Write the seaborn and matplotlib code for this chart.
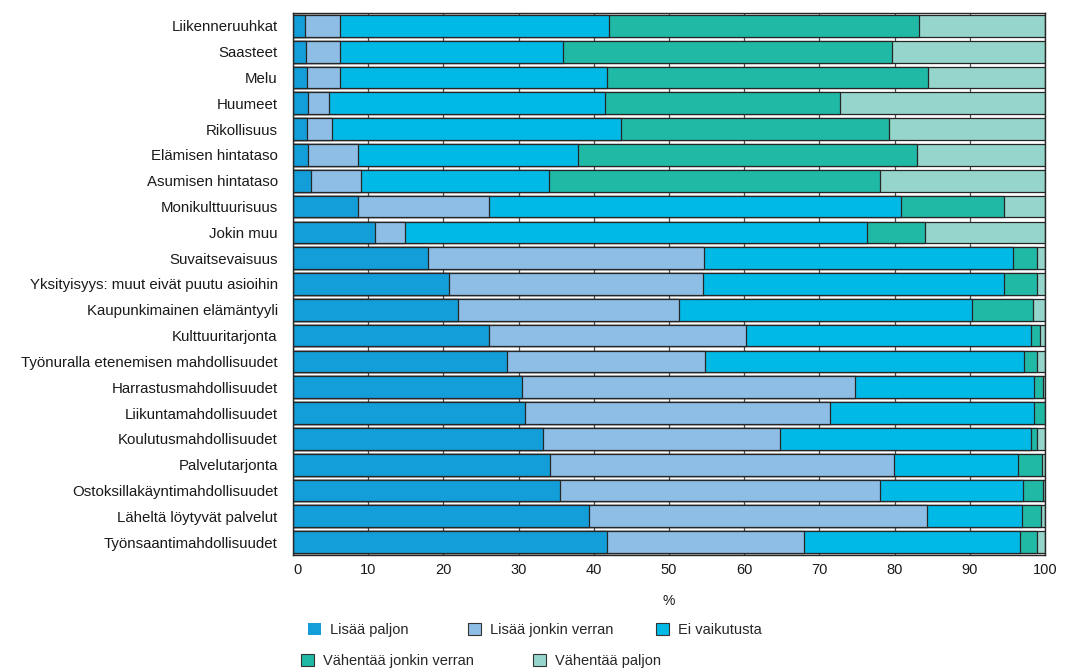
import matplotlib
matplotlib.use("Agg")
import matplotlib.pyplot as plt
from matplotlib.patches import Patch
import pandas as pd
import seaborn as sns

categories = [
    "Liikenneruuhkat", "Saasteet", "Melu", "Huumeet", "Rikollisuus",
    "Elämisen hintataso", "Asumisen hintataso", "Monikulttuurisuus", "Jokin muu",
    "Suvaitsevaisuus", "Yksityisyys: muut eivät puutu asioihin",
    "Kaupunkimainen elämäntyyli", "Kulttuuritarjonta",
    "Työnuralla etenemisen mahdollisuudet", "Harrastusmahdollisuudet",
    "Liikuntamahdollisuudet", "Koulutusmahdollisuudet", "Palvelutarjonta",
    "Ostoksillakäyntimahdollisuudet", "Läheltä löytyvät palvelut",
    "Työnsaantimahdollisuudet",
]

lisaa_paljon = [1.6, 1.7, 1.8, 1.95, 1.9, 1.95, 2.35, 8.7, 10.9, 17.95, 20.8,
                22.0, 26.1, 28.4, 30.45, 30.9, 33.2, 34.2, 35.5, 39.4, 41.7]
lisaa_jonkin_verran = [4.7, 4.6, 4.45, 2.8, 3.3, 6.75, 6.7, 17.3, 3.95, 36.65, 33.7,
                       29.3, 34.1, 26.4, 44.25, 40.5, 31.5, 45.7, 42.6, 44.9, 26.3]
ei_vaikutusta = [35.7, 29.6, 35.55, 36.8, 38.4, 29.2, 25.05, 54.8, 61.45, 41.1, 40.0,
                 39.0, 38.0, 42.4, 23.8, 27.2, 33.5, 16.5, 19.0, 12.6, 28.7]
vahentaa_jonkin_verran = [41.2, 43.7, 42.6, 31.2, 35.6, 45.1, 44.0, 13.8, 7.7, 3.2, 4.5,
                          8.1, 1.2, 1.7, 1.2, 1.4, 0.7, 3.2, 2.6, 2.6, 2.3]
vahentaa_paljon = [16.8, 20.4, 15.6, 27.25, 20.8, 17.0, 21.9, 5.4, 16.0, 1.1, 1.0,
                   1.6, 0.6, 1.1, 0.3, 0.0, 1.1, 0.4, 0.3, 0.5, 1.0]

series_names = ["Lisää paljon", "Lisää jonkin verran", "Ei vaikutusta",
                "Vähentää jonkin verran", "Vähentää paljon"]
series_colors = ["#139dd9", "#8ebde6", "#00b9e6", "#20b9a5", "#96d5cc"]

x_ticks = [0, 10, 20, 30, 40, 50, 60, 70, 80, 90, 100]

df = pd.DataFrame(
    dict(zip(series_names, [lisaa_paljon, lisaa_jonkin_verran, ei_vaikutusta,
                            vahentaa_jonkin_verran, vahentaa_paljon])),
    index=categories,
)
cum = df.cumsum(axis=1)

sns.set_theme(style="white")
plt.rcParams["font.family"] = ["Liberation Sans", "DejaVu Sans"]

W, H = 1065, 668
fig = plt.figure(figsize=(W / 100, H / 100), dpi=100)
ax = fig.add_axes([293 / W, 1 - 555 / H, (1045 - 293) / W, (555 - 13) / H])

# stacked bars: draw cumulative totals from the outermost segment inwards
for name, color in reversed(list(zip(series_names, series_colors))):
    sns.barplot(x=cum[name].values, y=categories, orient="h", color=color,
                saturation=1, width=0.84, edgecolor="#262626", linewidth=0.9,
                ax=ax, zorder=2)

ax.set_xlim(0, 100)
ax.set_ylim(len(categories) - 0.5, -0.5)
ax.set_xticks(x_ticks)
ax.set_xticklabels([str(t) for t in x_ticks])
ax.grid(axis="x", color="#4d4d4d", linewidth=0.9, zorder=0)
ax.grid(axis="y", visible=False)
ax.set_axisbelow(True)
for s in ax.spines.values():
    s.set_visible(True)
    s.set_color("#262626")
    s.set_linewidth(1.0)
ax.tick_params(axis="y", length=0, pad=11, labelsize=10.8, colors="#1a1a1a")
ax.tick_params(axis="x", length=3, direction="in", pad=6, labelsize=10.5,
               colors="#1a1a1a")
for lbl in ax.get_xticklabels():
    if lbl.get_text() == "0":
        lbl.set_horizontalalignment("left")
ax.set_ylabel("")
ax.set_xlabel("%", fontsize=10, labelpad=12, color="#1a1a1a")

# legend entries laid out in two rows below the axis
legend_pos = [(308, 630), (468, 630), (656, 630), (301, 661), (533, 661)]
legend_edges = ["none", "#333333", "#333333", "#333333", "#333333"]
for name, color, edge, (px, py) in zip(series_names, series_colors, legend_edges,
                                       legend_pos):
    handle = Patch(facecolor=color, edgecolor=edge, linewidth=0.8)
    fig.legend(handles=[handle], labels=[name], loc="center left",
               bbox_to_anchor=(px / W, 1 - py / H), frameon=False,
               fontsize=10.5, handlelength=0.9, handleheight=0.9,
               handletextpad=0.6, borderpad=0, borderaxespad=0)

fig.savefig("out.png", dpi=100)
